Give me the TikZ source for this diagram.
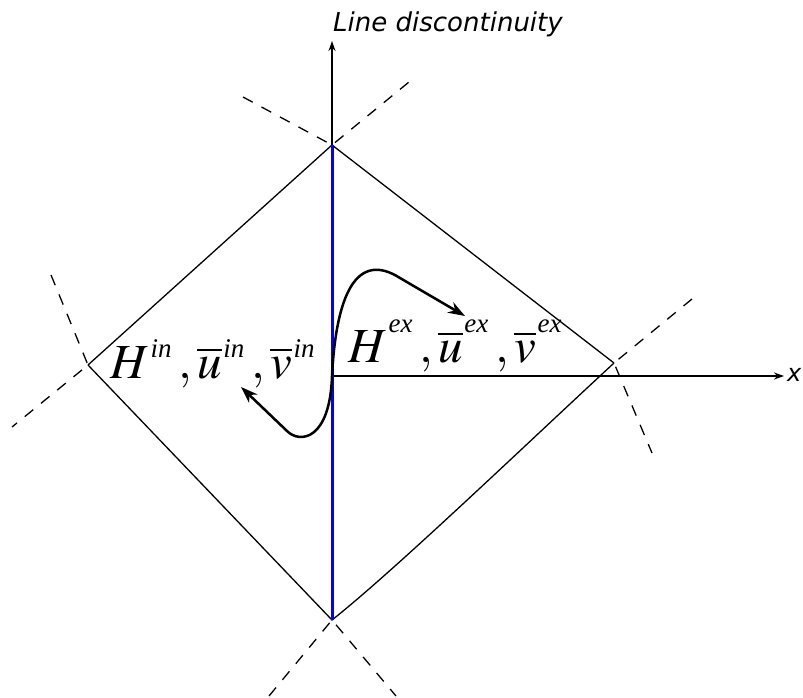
\documentclass[tikz,border=0pt]{standalone}
\usepackage{mathptmx}
\usepackage{fontspec}
\newfontfamily\dejavu{DejaVu Sans}[ItalicFont={DejaVu Sans Oblique}]
\newfontfamily\timesfam{Liberation Serif}
\newcommand\hi[2]{\mbox{\kern1.5pt\raisebox{#1}{\timesfam\itshape\fontsize{27}{30}\selectfont #2}\kern1.5pt}}
\usetikzlibrary{arrows.meta}

\begin{document}
\begin{tikzpicture}[x=1pt,y=-1pt,
  axis/.style={line width=1.5pt,-{Stealth[length=10pt,width=7pt]}},
  edge/.style={line width=1.3pt},
  guide/.style={line width=1.3pt,dash pattern=on 11pt off 10pt},
  flow/.style={line width=2.5pt,{Stealth[length=17pt,width=12pt]}-{Stealth[length=17pt,width=12pt]}},
  state/.style={anchor=base west,inner sep=0pt,font=\fontsize{49}{56}\selectfont}]
  \useasboundingbox (0,0) rectangle (803,698);
  % vertices of the diamond
  \coordinate (o) at (332,376);
  \coordinate (top) at (332,145);
  \coordinate (left) at (88,365);
  \coordinate (right) at (614,363);
  \coordinate (bot) at (332,620);
  % axis ends
  \coordinate (ytip) at (332,41);
  \coordinate (xtip) at (784,376);
  % ends of the dashed lines
  \coordinate (tl) at (243,97);
  \coordinate (tr) at (409,82);
  \coordinate (lu) at (51,275);
  \coordinate (ld) at (12,427);
  \coordinate (ru) at (692,299);
  \coordinate (rd) at (652,453);
  \coordinate (bl) at (269,696);
  \coordinate (br) at (396,696);
  % diamond
  \draw[edge] (left) -- (top) -- (right);
  \draw[edge] (left) -- (bot) .. controls (395,570) and (520,450) .. (right);
  % dashed lines
  \draw[guide] (tl) -- (top) -- (tr);
  \draw[guide] (lu) -- (left) -- (ld);
  \draw[guide] (ru) -- (right) -- (rd);
  \draw[guide] (bl) -- (bot) -- (br);
  % axes
  \draw[axis] (o) -- (ytip);
  \draw[axis] (o) -- (xtip);
  \node[anchor=base west,inner sep=0pt,font=\dejavu\itshape\fontsize{26}{30}\selectfont] (ylab) at (333,32) {Line discontinuity};
  \node[anchor=base west,inner sep=0pt,font=\dejavu\itshape\fontsize{24}{28}\selectfont] (xlab) at (787,381) {x};
  % discontinuity
  \draw[blue,line width=3pt] (top) -- (bot);
  % states on both sides
  \coordinate (inflow) at (241,387);
  \coordinate (exflow) at (465,316);
  \draw[flow] (inflow) -- (287,431) .. controls (300,444) and (330,440) .. (o)
    .. controls (336,296) and (356,250) .. (400,278) -- (exflow);
  \node[state] (inside) at (110,378) {$H\hi{21pt}{in}\,,\overline{u}\hi{21pt}{in}\,,\overline{v}\hi{21pt}{in}$};
  \node[state] (outside) at (348,362) {$H\hi{30pt}{ex}\,,\overline{u}\hi{30pt}{ex}\,,\overline{v}\hi{30pt}{ex}$};
\end{tikzpicture}
\end{document}
